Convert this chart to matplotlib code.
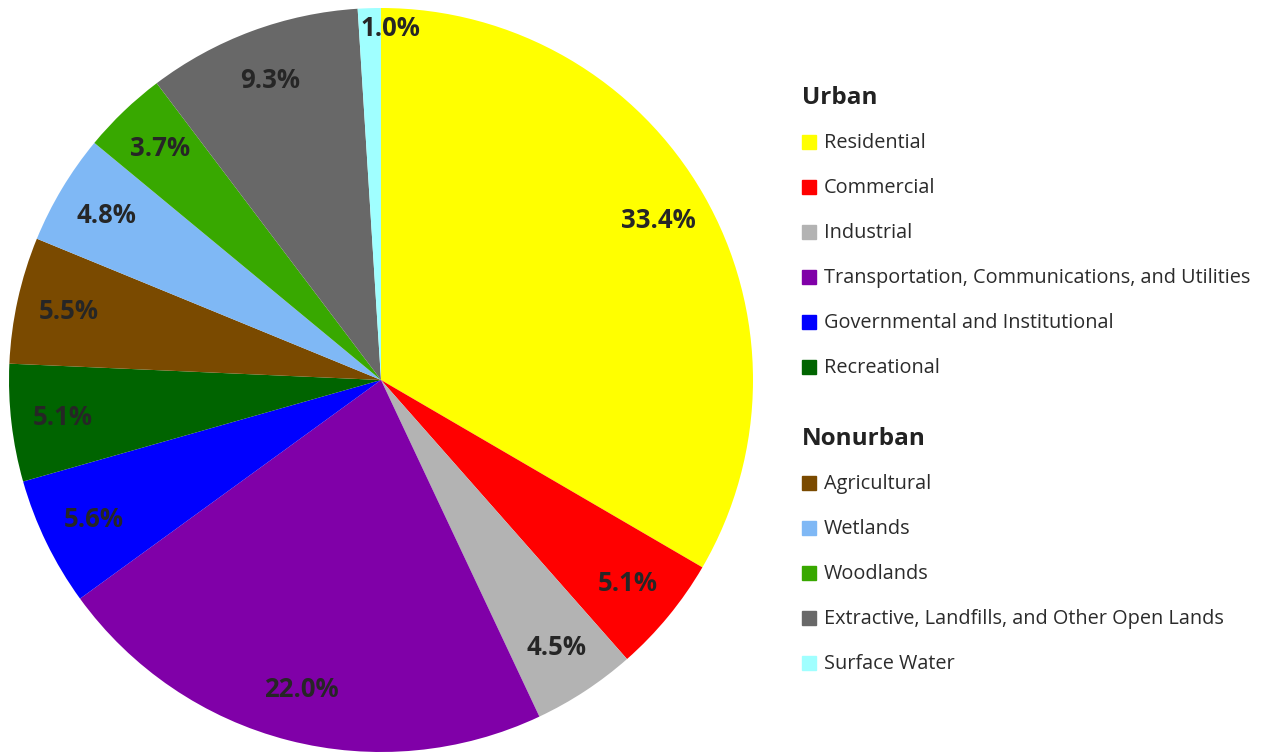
import matplotlib.pyplot as plt
from matplotlib.patches import Rectangle

plt.rcParams['font.family'] = ['Open Sans', 'Noto Sans', 'DejaVu Sans']

# ── Données ───────────────────────────────────────────────────────────────────
urban_labels = ["Residential", "Commercial", "Industrial",
                "Transportation, Communications, and Utilities",
                "Governmental and Institutional", "Recreational"]
urban_values = [33.4, 5.1, 4.5, 22.0, 5.6, 5.1]
urban_colors = ["#ffff00", "#ff0000", "#b3b3b3", "#8000a8", "#0000ff", "#006400"]

nonurban_labels = ["Agricultural", "Wetlands", "Woodlands",
                   "Extractive, Landfills, and Other Open Lands", "Surface Water"]
nonurban_values = [5.5, 4.8, 3.7, 9.3, 1.0]
nonurban_colors = ["#7a4a00", "#7fb8f5", "#38a800", "#686868", "#a0ffff"]

values = urban_values + nonurban_values
colors = urban_colors + nonurban_colors

W, H = 1264, 752
fig = plt.figure(figsize=(W / 100, H / 100), dpi=100)

# ── Camembert ─────────────────────────────────────────────────────────────────
R = 372
cx, cy = 381, 380
ax = fig.add_axes([(cx - R) / W, (H - cy - R) / H, 2 * R / W, 2 * R / H])
wedges, texts, autotexts = ax.pie(values, colors=colors, startangle=90,
                                  counterclock=False, radius=1.0,
                                  autopct='%1.1f%%', pctdistance=0.86,
                                  wedgeprops=dict(linewidth=0))
for t in autotexts:
    t.set_fontsize(18.5)
    t.set_fontweight('bold')
    t.set_color('#262626')
# la petite part (1.0 %) : étiquette repoussée vers le bord, comme l'original
x, y = autotexts[-1].get_position()
autotexts[-1].set_position((x * 1.1 + 0.055, y * 1.1))
ax.set_xlim(-1, 1)
ax.set_ylim(-1, 1)
ax.set_aspect('equal')
ax.axis('off')

# ── Légende ───────────────────────────────────────────────────────────────────
def px(x, y):
    return x / W, 1 - y / H


def section(title, y_title, labels, cols, y0):
    fig.text(*px(802, y_title), title, fontsize=17.5, fontweight='bold',
             color='#222222', va='center', ha='left')
    for i, (lab, col) in enumerate(zip(labels, cols)):
        y = y0 + 45 * i
        fx, fy = px(802, y + 8)
        fig.patches.append(Rectangle((fx, fy), 14 / W, 14 / H, color=col,
                                     transform=fig.transFigure, figure=fig))
        fig.text(*px(824, y + 2), lab, fontsize=14.3, color='#2b2b2b',
                 va='center', ha='left')


section("Urban", 98, urban_labels, urban_colors, 141)
section("Nonurban", 439, nonurban_labels, nonurban_colors, 482)

plt.savefig("out.png", dpi=100)
